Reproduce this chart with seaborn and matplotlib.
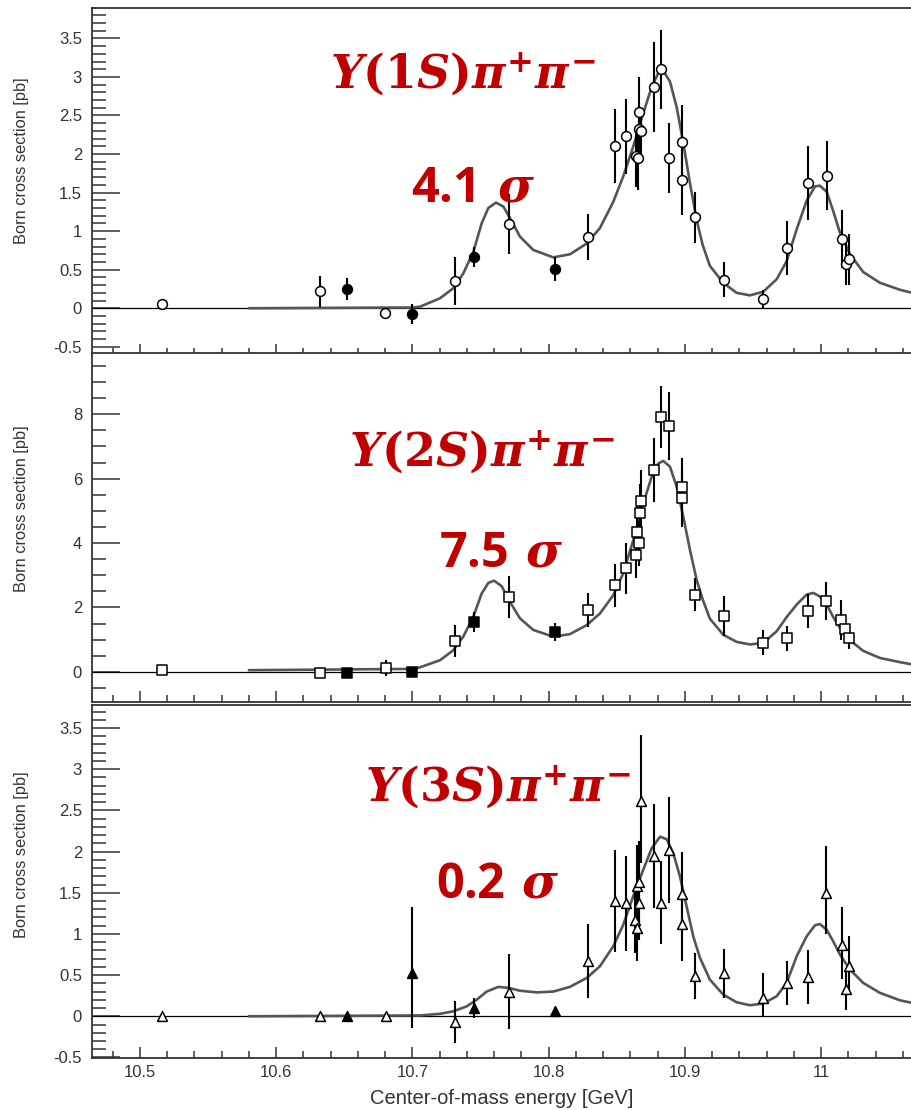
import numpy as np
import pandas as pd
import seaborn as sns
import matplotlib
matplotlib.use("Agg")
import matplotlib.pyplot as plt
from matplotlib.ticker import MultipleLocator, FormatStrFormatter

sns.set_style("ticks")
plt.rcParams['font.family'] = ['Liberation Sans', 'DejaVu Sans']
plt.rcParams['mathtext.fontset'] = 'custom'
plt.rcParams['mathtext.rm'] = 'DejaVu Serif:italic:bold'
plt.rcParams['mathtext.it'] = 'DejaVu Serif:italic:bold'
plt.rcParams['mathtext.bf'] = 'DejaVu Serif:bold'
plt.rcParams['mathtext.sf'] = 'Open Sans:bold'

# ---- Y(1S) pi pi
e_1s = [10.5166, 10.632, 10.652, 10.680, 10.700, 10.731, 10.745, 10.771, 10.805, 10.829,
        10.8485, 10.857, 10.8639, 10.8658, 10.8666, 10.8666, 10.8674, 10.8774, 10.8827, 10.8885,
        10.898, 10.898, 10.9073, 10.929, 10.957, 10.975, 10.990, 11.004, 11.015, 11.018, 11.0205]
y_1s = [0.05, 0.22, 0.25, -0.065, -0.075, 0.35, 0.66, 1.09, 0.51, 0.92,
        2.10, 2.23, 1.97, 1.95, 2.55, 2.33, 2.30, 2.87, 3.10, 1.95,
        2.15, 1.66, 1.18, 0.37, 0.12, 0.78, 1.62, 1.72, 0.90, 0.57, 0.635]
err_1s = [0.0, 0.20, 0.14, 0.03, 0.13, 0.31, 0.13, 0.39, 0.16, 0.30,
          0.48, 0.49, 0.40, 0.42, 0.45, 0.30, 0.30, 0.58, 0.51, 0.45,
          0.49, 0.45, 0.33, 0.23, 0.12, 0.35, 0.48, 0.45, 0.38, 0.27, 0.33]
filled_1s = [0, 0, 1, 0, 1, 0, 1, 0, 1, 0,
             0, 0, 0, 0, 0, 0, 0, 0, 0, 0,
             0, 0, 0, 0, 0, 0, 0, 0, 0, 0, 0]
fit_e_1s = [10.58, 10.700, 10.7056, 10.7203, 10.730, 10.7373, 10.7447, 10.7508, 10.7557, 10.7613,
            10.7667, 10.7716, 10.7789, 10.7887, 10.8034, 10.8156, 10.8279, 10.8376, 10.8474, 10.8547,
            10.8621, 10.8694, 10.8756, 10.8804, 10.8841, 10.8890, 10.8939, 10.8988, 10.9037, 10.9086,
            10.9130, 10.9183, 10.9281, 10.9379, 10.9477, 10.9574, 10.9673, 10.9746, 10.9820, 10.9893,
            10.9954, 10.9990, 11.0040, 11.0088, 11.0137, 11.0211, 11.0308, 11.0431, 11.0577, 11.0666]
fit_y_1s = [0.0, 0.01, 0.02, 0.13, 0.26, 0.45, 0.73, 1.10, 1.30, 1.37,
            1.32, 1.17, 0.93, 0.756, 0.66, 0.70, 0.84, 1.04, 1.38, 1.71,
            2.10, 2.53, 2.87, 3.05, 3.08, 2.94, 2.61, 2.14, 1.62, 1.145,
            0.82, 0.55, 0.33, 0.20, 0.167, 0.214, 0.376, 0.61, 1.025, 1.395,
            1.58, 1.59, 1.51, 1.26, 0.98, 0.70, 0.47, 0.33, 0.24, 0.20]

# ---- Y(2S) pi pi
e_2s = [10.5166, 10.632, 10.652, 10.6804, 10.700, 10.731, 10.745, 10.771, 10.805, 10.829,
        10.8485, 10.8566, 10.8639, 10.8651, 10.8666, 10.867, 10.8674, 10.8774, 10.8827, 10.8885,
        10.898, 10.898, 10.9073, 10.9285, 10.957, 10.975, 10.990, 11.0035, 11.0147, 11.0174, 11.0205]
y_2s = [0.05, -0.05, -0.03, 0.12, 0.0, 0.95, 1.55, 2.33, 1.24, 1.92,
        2.69, 3.21, 3.62, 4.35, 3.99, 4.92, 5.31, 6.26, 7.92, 7.63,
        5.73, 5.40, 2.40, 1.74, 0.90, 1.04, 1.89, 2.20, 1.61, 1.33, 1.04]
err_2s = [0.05, 0.10, 0.08, 0.25, 0.06, 0.50, 0.30, 0.65, 0.28, 0.53,
          0.67, 0.80, 0.70, 0.80, 0.70, 0.90, 0.95, 1.00, 0.96, 1.05,
          0.90, 0.90, 0.52, 0.62, 0.39, 0.38, 0.52, 0.60, 0.62, 0.35, 0.34]
filled_2s = [0, 0, 1, 0, 1, 0, 1, 0, 1, 0,
             0, 0, 0, 0, 0, 0, 0, 0, 0, 0,
             0, 0, 0, 0, 0, 0, 0, 0, 0, 0, 0]
fit_e_2s = [10.58, 10.700, 10.7056, 10.7203, 10.730, 10.7373, 10.7447, 10.7508, 10.7557, 10.7599,
            10.7655, 10.7716, 10.7789, 10.7887, 10.8034, 10.8156, 10.8279, 10.8376, 10.8474, 10.8547,
            10.8621, 10.8694, 10.8756, 10.8804, 10.8841, 10.8890, 10.8939, 10.8988, 10.9037, 10.9086,
            10.9130, 10.9183, 10.9281, 10.9379, 10.9477, 10.9574, 10.9673, 10.9746, 10.9820, 10.9893,
            10.9942, 10.9990, 11.0040, 11.0088, 11.0137, 11.0211, 11.0308, 11.0431, 11.0577, 11.0666]
fit_y_2s = [0.05, 0.09, 0.14, 0.36, 0.67, 1.09, 1.71, 2.43, 2.76, 2.83,
            2.66, 2.17, 1.66, 1.30, 1.09, 1.17, 1.45, 1.81, 2.38, 3.06,
            4.09, 5.23, 6.06, 6.47, 6.55, 6.37, 5.75, 4.81, 3.78, 2.85,
            2.25, 1.65, 1.15, 0.93, 0.85, 0.895, 1.26, 1.70, 2.09, 2.40,
            2.45, 2.34, 2.09, 1.70, 1.37, 0.98, 0.65, 0.43, 0.30, 0.23]

# ---- Y(3S) pi pi
e_3s = [10.5166, 10.632, 10.652, 10.6804, 10.700, 10.731, 10.745, 10.771, 10.805, 10.829,
        10.8485, 10.8566, 10.8635, 10.8651, 10.8651, 10.8666, 10.8666, 10.8674, 10.8774, 10.8827,
        10.8885, 10.898, 10.898, 10.9073, 10.9285, 10.957, 10.975, 10.990, 11.0035, 11.015,
        11.0181, 11.0206]
y_3s = [0.0, 0.0, 0.0, 0.0, 0.53, -0.07, 0.10, 0.30, 0.06, 0.667,
        1.40, 1.37, 1.17, 1.07, 1.58, 1.63, 1.38, 2.61, 1.95, 1.38,
        2.02, 1.48, 1.12, 0.485, 0.52, 0.22, 0.405, 0.48, 1.50, 0.87,
        0.33, 0.615]
err_lo_3s = [0.03, 0.03, 0.03, 0.03, 0.67, 0.25, 0.12, 0.46, 0.05, 0.45,
             0.62, 0.58, 0.40, 0.40, 0.50, 0.50, 0.45, 0.75, 0.63, 0.50,
             0.64, 0.52, 0.45, 0.28, 0.30, 0.22, 0.27, 0.33, 0.50, 0.42,
             0.25, 0.36]
err_hi_3s = [0.03, 0.03, 0.03, 0.03, 0.80, 0.25, 0.12, 0.46, 0.05, 0.45,
             0.62, 0.58, 0.40, 0.40, 0.50, 0.50, 0.45, 0.80, 0.63, 0.50,
             0.64, 0.52, 0.45, 0.28, 0.30, 0.30, 0.27, 0.33, 0.57, 0.46,
             0.25, 0.36]
filled_3s = [0, 0, 1, 0, 1, 0, 1, 0, 1, 0,
             0, 0, 0, 0, 0, 0, 0, 0, 0, 0,
             0, 0, 0, 0, 0, 0, 0, 0, 0, 0, 0, 0]
fit_e_3s = [10.58, 10.7056, 10.7203, 10.730, 10.7398, 10.7471, 10.7545, 10.763, 10.7704, 10.7789,
            10.7912, 10.8034, 10.8156, 10.8279, 10.8376, 10.8474, 10.8547, 10.8621, 10.8694, 10.8756,
            10.8817, 10.8866, 10.8914, 10.8963, 10.9012, 10.9061, 10.9110, 10.9183, 10.9281, 10.9379,
            10.9477, 10.9574, 10.9673, 10.9746, 10.9820, 10.9893, 10.9954, 10.9990, 11.0040, 11.0088,
            11.0137, 11.0211, 11.0308, 11.0431, 11.0577, 11.0666]
fit_y_3s = [0.0, 0.01, 0.03, 0.06, 0.12, 0.20, 0.30, 0.357, 0.345, 0.31,
            0.29, 0.30, 0.357, 0.465, 0.607, 0.85, 1.11, 1.46, 1.78, 2.04,
            2.18, 2.15, 1.98, 1.70, 1.335, 0.97, 0.71, 0.445, 0.263, 0.17,
            0.134, 0.154, 0.243, 0.405, 0.73, 0.97, 1.105, 1.12, 1.05, 0.91,
            0.75, 0.567, 0.405, 0.284, 0.194, 0.163]

channel_labels = [r'$\Upsilon\mathbf{(1}S\mathbf{)}\pi^{+}\pi^{-}$',
                  r'$\Upsilon\mathbf{(2}S\mathbf{)}\pi^{+}\pi^{-}$',
                  r'$\Upsilon\mathbf{(3}S\mathbf{)}\pi^{+}\pi^{-}$']
signif_labels = [r'$\mathsf{4.1}\ \sigma$', r'$\mathsf{7.5}\ \sigma$', r'$\mathsf{0.2}\ \sigma$']
x_ticks = [10.5, 10.6, 10.7, 10.8, 10.9, 11.0]

RED = '#c00000'
GREY = '#333333'


def panel(ax, e, y, lo, hi, filled, fe, fy, marker, size):
    df = pd.DataFrame({'E': e, 'y': y, 'filled': np.array(filled, dtype=bool)})
    ax.axhline(0, color='black', lw=0.9, zorder=1)
    sns.lineplot(x=fe, y=fy, ax=ax, color='#555555', lw=1.9, zorder=2)
    ax.errorbar(e, y, yerr=[lo, hi], fmt='none', ecolor='black', elinewidth=1.5, capsize=0, zorder=3)
    sns.scatterplot(data=df[~df.filled], x='E', y='y', marker=marker, s=size,
                    facecolor='white', edgecolor='black', linewidth=1.1, ax=ax, zorder=4)
    sns.scatterplot(data=df[df.filled], x='E', y='y', marker=marker, s=size,
                    facecolor='black', edgecolor='black', linewidth=1.1, ax=ax, zorder=4)
    ax.set_xlim(10.4647, 11.0666)
    ax.xaxis.set_major_locator(MultipleLocator(0.1))
    ax.xaxis.set_minor_locator(MultipleLocator(0.02))
    ax.xaxis.set_major_formatter(FormatStrFormatter('%g'))
    ax.yaxis.set_major_formatter(FormatStrFormatter('%g'))
    ax.spines['right'].set_visible(False)
    for s in ['left', 'bottom', 'top']:
        ax.spines[s].set_color(GREY)
        ax.spines[s].set_linewidth(1.3)
    ax.tick_params(axis='both', which='both', direction='in', top=False, right=False,
                   colors=GREY, labelsize=12, width=1.1)
    ax.tick_params(axis='y', which='major', length=20, pad=7)
    ax.tick_params(axis='y', which='minor', length=10)
    ax.tick_params(axis='x', which='major', length=8, pad=5)
    ax.tick_params(axis='x', which='minor', length=5)
    ax.set_xlabel('')
    ax.set_ylabel('Born cross section [pb]', fontsize=11.8, color=GREY)


fig = plt.figure(figsize=(9.12, 11.10), dpi=100)
ax1 = fig.add_axes([0.1006, 0.6802, 0.8994, 0.3123])
ax2 = fig.add_axes([0.1006, 0.3678, 0.8994, 0.3141])
ax3 = fig.add_axes([0.1006, 0.0466, 0.8994, 0.3183])

panel(ax1, e_1s, y_1s, err_1s, err_1s, filled_1s, fit_e_1s, fit_y_1s, 'o', 50)
panel(ax2, e_2s, y_2s, err_2s, err_2s, filled_2s, fit_e_2s, fit_y_2s, 's', 50)
panel(ax3, e_3s, y_3s, err_lo_3s, err_hi_3s, filled_3s, fit_e_3s, fit_y_3s, '^', 50)

ax1.set_ylim(-0.606, 3.89)
ax1.yaxis.set_major_locator(MultipleLocator(0.5))
ax1.yaxis.set_minor_locator(MultipleLocator(0.1))
ax2.set_ylim(-0.93, 9.9)
ax2.yaxis.set_major_locator(MultipleLocator(2))
ax2.yaxis.set_minor_locator(MultipleLocator(0.5))
ax3.set_ylim(-0.51, 3.78)
ax3.yaxis.set_major_locator(MultipleLocator(0.5))
ax3.yaxis.set_minor_locator(MultipleLocator(0.1))

for a in (ax1, ax2):
    a.tick_params(axis='x', labelbottom=False)
ax3.set_xticks(x_ticks)
ax3.set_xlabel('Center-of-mass energy [GeV]', fontsize=14.5, color=GREY, labelpad=6)

ax1.yaxis.set_label_coords(-0.077, 0.56)
ax2.yaxis.set_label_coords(-0.077, 0.555)
ax3.yaxis.set_label_coords(-0.077, 0.575)

text_pos = [(0.362, 0.9204, 0.451, 0.8183),
            (0.3832, 0.5793, 0.481, 0.4892),
            (0.4002, 0.2775, 0.478, 0.191)]
for lab, sig, (x1, y1, x2, y2) in zip(channel_labels, signif_labels, text_pos):
    fig.text(x1, y1, lab, color=RED, fontsize=33, ha='left', va='baseline')
    fig.text(x2, y2, sig, color=RED, fontsize=35, ha='left', va='baseline')

fig.savefig('out.png', dpi=100)
